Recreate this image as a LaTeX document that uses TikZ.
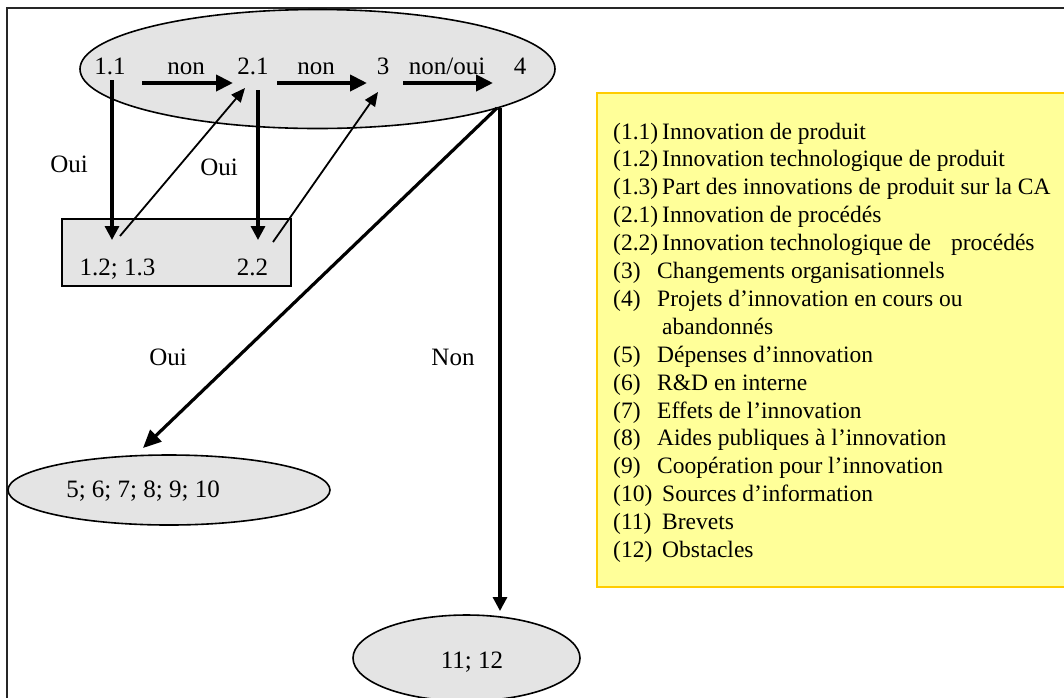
\documentclass[tikz,border=0pt]{standalone}
\usepackage{fontspec}
\setmainfont{Liberation Serif}
\usetikzlibrary{arrows.meta,shapes.geometric}
\definecolor{fillgray}{RGB}{228,228,228}
\definecolor{legfill}{RGB}{255,255,153}
\definecolor{legborder}{RGB}{255,204,0}
\newcommand\legitem[3]{\makebox[#1][l]{#2}#3}
\begin{document}
\begin{tikzpicture}[x=1pt,y=-1pt,
  lbl/.style={font=\fontsize{25}{30}\selectfont, inner sep=0pt, anchor=base},
  leg/.style={font=\fontsize{23.5}{28}\selectfont, inner sep=0pt, anchor=base west},
  bubble/.style={ellipse, draw=black, line width=1.6pt, fill=fillgray, inner sep=0pt},
  flow/.style={line width=4pt, -{Triangle[length=17pt,width=16pt]}},
  down/.style={line width=3.2pt, -{Triangle[length=14pt,width=14pt]}},
  back/.style={line width=1.8pt, -{Triangle[length=14pt,width=12pt]}},
  branch/.style={line width=3.2pt, -{Triangle[length=18pt,width=16pt]}},
]
\useasboundingbox (0,0) rectangle (1064,697);
\clip (0,0) rectangle (1064,697);
\fill[white] (0,0) rectangle (1064,697);
% outer frame
\draw[line width=1.8pt, black!85] (7,705) -- (7,8) -- (1075,8);
% legend box
\draw[draw=legborder, fill=legfill, line width=2.2pt] (597,93) rectangle (1080,587);
\node[leg] (g1)  at (613,139.0) {\legitem{49pt}{(1.1)}{Innovation de produit}};
\node[leg] (g2)  at (613,166.9) {\legitem{49pt}{(1.2)}{Innovation technologique de produit}};
\node[leg] (g3)  at (613,194.8) {\legitem{49pt}{(1.3)}{Part des innovations de produit sur la CA}};
\node[leg] (g4)  at (613,222.7) {\legitem{49pt}{(2.1)}{Innovation de procédés}};
\node[leg] (g5)  at (613,250.6) {\legitem{49pt}{(2.2)}{Innovation technologique de\hspace{20pt}procédés}};
\node[leg] (g6)  at (613,278.5) {\legitem{44pt}{(3)}{Changements organisationnels}};
\node[leg] (g7)  at (613,306.4) {\legitem{44pt}{(4)}{Projets d’innovation en cours ou}};
\node[leg] (g8)  at (613,334.3) {\legitem{49pt}{}{abandonnés}};
\node[leg] (g9)  at (613,362.2) {\legitem{44pt}{(5)}{Dépenses d’innovation}};
\node[leg] (g10) at (613,390.1) {\legitem{44pt}{(6)}{R\&D en interne}};
\node[leg] (g11) at (613,418.0) {\legitem{44pt}{(7)}{Effets de l’innovation}};
\node[leg] (g12) at (613,445.9) {\legitem{44pt}{(8)}{Aides publiques à l’innovation}};
\node[leg] (g13) at (613,473.8) {\legitem{44pt}{(9)}{Coopération pour l’innovation}};
\node[leg] (g14) at (613,501.7) {\legitem{49pt}{(10)}{Sources d’information}};
\node[leg] (g15) at (613,529.6) {\legitem{49pt}{(11)}{Brevets}};
\node[leg] (g16) at (613,557.5) {\legitem{49pt}{(12)}{Obstacles}};
% top ellipse
\node[bubble, minimum width=475pt, minimum height=119pt] (top) at (317.5,69) {};
\node[lbl] (n11) at (110,74) {1.1};
\node[lbl] (l1)  at (186,74) {non};
\node[lbl] (n21) at (253,74) {2.1};
\node[lbl] (l2)  at (316,74) {non};
\node[lbl] (n3)  at (383,74) {3};
\node[lbl] (l3)  at (447,74) {non/oui};
\node[lbl] (n4)  at (520,74) {4};
% box
\node[draw, line width=1.4pt, fill=fillgray, minimum width=229pt, minimum height=67pt, inner sep=0pt] (box) at (176.5,252.5) {};
\node[lbl] (n1213) at (117.5,275) {1.2; 1.3};
\node[lbl] (n22) at (252.5,275) {2.2};
% lower ellipses
\node[bubble, minimum width=322pt, minimum height=70pt] (low) at (169,490) {};
\node[lbl] (nlow) at (143,497) {5; 6; 7; 8; 9; 10};
\node[bubble, minimum width=227pt, minimum height=86pt] (bot) at (466.5,658) {};
\node[lbl] (nbot) at (472,668) {11; 12};
% labels
\node[lbl] (o1) at (69,172) {Oui};
\node[lbl] (o2) at (219,175) {Oui};
\node[lbl] (o3) at (168,365) {Oui};
\node[lbl] (nn) at (453,365) {Non};
% arrow coordinates
\coordinate (h1s) at (142,83); \coordinate (h1e) at (233,83);
\coordinate (h2s) at (277,83); \coordinate (h2e) at (367,83);
\coordinate (h3s) at (403,83); \coordinate (h3e) at (493,83);
\coordinate (v1s) at (112,80); \coordinate (v1e) at (112,240);
\coordinate (v2s) at (258,90); \coordinate (v2e) at (258,240);
\coordinate (d1s) at (120,236); \coordinate (d1e) at (245,88);
\coordinate (d2s) at (273,242); \coordinate (d2e) at (378,92);
\coordinate (bs) at (497,108); \coordinate (be) at (143,448);
\coordinate (ns) at (500,108); \coordinate (ne) at (500,611);
\draw[flow] (h1s) -- (h1e);
\draw[flow] (h2s) -- (h2e);
\draw[flow] (h3s) -- (h3e);
\draw[down] (v1s) -- (v1e);
\draw[down] (v2s) -- (v2e);
\draw[back] (d1s) -- (d1e);
\draw[back] (d2s) -- (d2e);
\draw[branch] (bs) -- (be);
\draw[down] (ns) -- (ne);
\end{tikzpicture}
\end{document}
